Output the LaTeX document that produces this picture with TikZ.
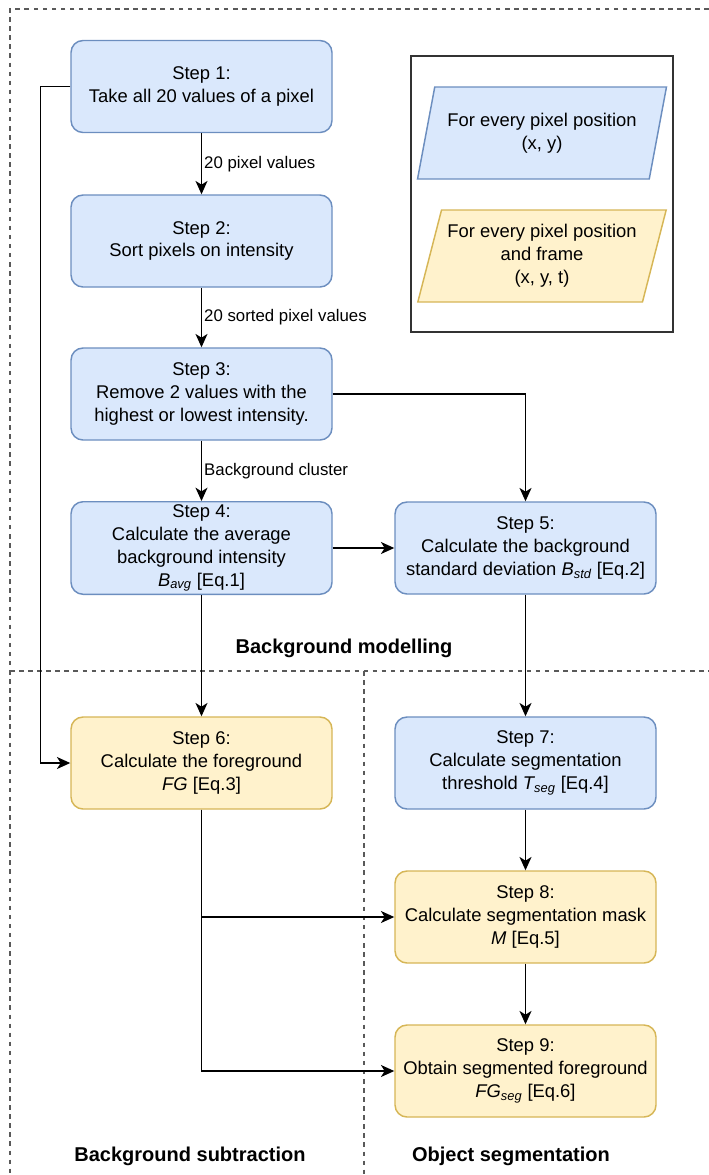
\documentclass[tikz,border=0pt]{standalone}
\usepackage{fontspec}
\setmainfont{Liberation Sans}
\usetikzlibrary{arrows.meta}
\usetikzlibrary{shapes.geometric}
\definecolor{bluefill}{HTML}{DAE8FC}
\definecolor{blueline}{HTML}{6C8EBF}
\definecolor{yellowfill}{HTML}{FFF2CC}
\definecolor{yellowline}{HTML}{D6B656}
\newcommand{\symsub}[2]{\textit{#1\textsubscript{#2}}}

\begin{document}
\begin{tikzpicture}[x=0.75pt,y=-0.75pt,line width=1.1pt,
  >={Stealth[length=10pt,width=9pt,inset=2.8pt]},
  block/.style={rectangle,rounded corners=9pt,draw,minimum width=195.75pt,minimum height=69pt,
                align=center,inner sep=2pt,font=\fontsize{13.8}{17.2}\selectfont},
  pixblock/.style={block,draw=blueline,fill=bluefill},
  frameblock/.style={block,draw=yellowline,fill=yellowfill},
  legend/.style={trapezium,trapezium left angle=72,trapezium right angle=108,trapezium stretches=true,
                 minimum width=186.75pt,minimum height=69pt,align=center,font=\fontsize{13.8}{17.2}\selectfont},
  region/.style={draw=black!65,dash pattern=on 3.4pt off 3.4pt},
  lbl/.style={font=\fontsize{12.6}{15}\selectfont,fill=white,inner sep=1.5pt},
  title/.style={font=\fontsize{15}{18}\selectfont\bfseries}]
\useasboundingbox (0,0) rectangle (709,1175);
% regions
\draw [region] (709,9) -- (10,9) -- (10,1175);
\draw [region] (10,671) -- (709,671);
\draw [region] (364,671) -- (364,1175);
\node at (344, 648) (T1) [title] {Background modelling};
\node at (190,1156) (T2) [title] {Background subtraction};
\node at (511,1156) (T3) [title] {Object segmentation};
% legend
\node at (542, 194) (L)  [draw=black!80,minimum width=196.5pt,minimum height=207pt] {};
\node at (542, 133) (L1) [legend,draw=blueline,fill=bluefill] {For every pixel position\\(x, y)};
\node at (542, 256) (L2) [legend,draw=yellowline,fill=yellowfill] {For every pixel position\\and frame\\(x, y, t)};
% steps
\node at (201.5,  86.5) (S1) [pixblock] {Step 1:\\Take all 20 values of a pixel};
\node at (201.5,  241) (S2) [pixblock] {Step 2:\\Sort pixels on intensity};
\node at (201.5,  394) (S3) [pixblock] {Step 3:\\Remove 2 values with the\\highest or lowest intensity.};
\node at (201.5,  548) (S4) [pixblock] {Step 4:\\Calculate the average\\background intensity\\\symsub{B}{avg} [Eq.1]};
\node at (525.5,  548) (S5) [pixblock] {Step 5:\\Calculate the background\\standard deviation \symsub{B}{std} [Eq.2]};
\node at (201.5,  763) (S6) [frameblock] {Step 6:\\Calculate the foreground\\\textit{FG} [Eq.3]};
\node at (525.5,  763) (S7) [pixblock] {Step 7:\\Calculate segmentation\\threshold \symsub{T}{seg} [Eq.4]};
\node at (525.5,  917) (S8) [frameblock] {Step 8:\\Calculate segmentation mask\\\textit{M} [Eq.5]};
\node at (525.5, 1071) (S9) [frameblock] {Step 9:\\Obtain segmented foreground\\\symsub{FG}{seg} [Eq.6]};
% flow
\draw [->] (S1) -- (S2) node[lbl,midway,right] (E1) {20 pixel values};
\draw [->] (S2) -- (S3) node[lbl,midway,right] (E2) {20 sorted pixel values};
\draw [->] (S3) -- (S4) node[lbl,midway,right] (E3) {Background cluster};
\draw [->] (S3.east) -| (S5.north);
\draw [->] (S4) -- (S5);
\draw [->] (S4) -- (S6);
\draw [->] (S5) -- (S7);
\draw [->] (S1.west) -- ++(-30,0) |- (S6.west);
\draw [->] (S6.south) |- (S8.west);
\draw [->] (S6.south) |- (S9.west);
\draw [->] (S7) -- (S8);
\draw [->] (S8) -- (S9);
\end{tikzpicture}
\end{document}
